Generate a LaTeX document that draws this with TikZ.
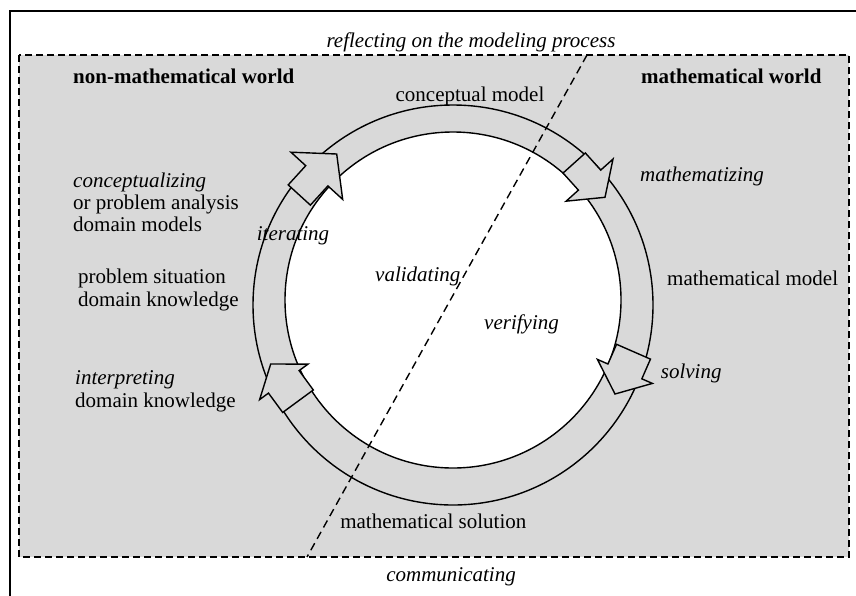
\documentclass[tikz,border=0pt]{standalone}
\usepackage{fontspec}
\setmainfont{Liberation Serif}
\usetikzlibrary{calc}
\definecolor{bggray}{RGB}{217,217,217}
\tikzset{
  lbl/.style={inner sep=0pt, font=\fontsize{21}{25}\selectfont},
  ilbl/.style={lbl, font=\fontsize{21}{25}\selectfont\itshape},
  blbl/.style={lbl, font=\fontsize{21}{25}\selectfont\bfseries},
  ringline/.style={line width=1.4pt},
  arrowbox/.style={line width=1.4pt, fill=bggray, line join=miter},
  divider/.style={line width=1.4pt, dash pattern=on 8pt off 5pt}
}
\begin{document}
\begin{tikzpicture}[x=1pt,y=-1pt]
\clip (0,0) rectangle (856,595);
\useasboundingbox (0,0) rectangle (856,595);
% outer frame (only left and top edges visible)
\draw[line width=1.8pt] (10,11) rectangle (900,650);
% dashed world box
\filldraw[fill=bggray, line width=1.4pt, dash pattern=on 7pt off 4pt] (19,55) rectangle (849,557);
% ring
\coordinate (oc) at (453,305);
\coordinate (ic) at (453,300);
\draw[ringline] (oc) circle[radius=200pt];
\filldraw[ringline, fill=white] (ic) circle[radius=168pt];
% block arrows: tail centre T, tip P, half shaft w, shaft length s, half head h
\foreach \n/\tx/\ty/\px/\py/\w/\s/\h in {
  1/299.3/195/336.7/154/15/26/35,
  2/574.2/163/605/197.3/15/23/31.5,
  3/633.5/351.7/615/394/18.5/21.5/30,
  4/298/401.2/270.7/364/19/24/30}{
  \coordinate (T\n) at (\tx,\ty);
  \coordinate (P\n) at (\px,\py);
  \coordinate (S\n) at ($(T\n)!\s pt!(P\n)$);
  \draw[arrowbox] ($(T\n)!\w pt!90:(P\n)$) -- ($(S\n)!\w pt!90:(P\n)$)
     -- ($(S\n)!\h pt!90:(P\n)$) -- (P\n) -- ($(S\n)!\h pt!-90:(P\n)$)
     -- ($(S\n)!\w pt!-90:(P\n)$) -- ($(T\n)!\w pt!-90:(P\n)$) -- cycle;
}
% dividing line
\coordinate (dtop) at (587,55);
\coordinate (dbot) at (307,557);
\draw[divider] (dtop) -- (dbot);
% labels
\node[ilbl, anchor=base] (reflect) at (471,47.7) {reflecting on the modeling process};
\node[blbl, anchor=base west] (nonmath) at (73,83.3) {non-mathematical world};
\node[blbl, anchor=base west] (math) at (641,83.3) {mathematical world};
\node[lbl, anchor=base] (concmodel) at (470,101.7) {conceptual model};
\node[ilbl, anchor=base west] (mathematizing) at (640,181.7) {mathematizing};
\node[lbl, anchor=base west] (mathmodel) at (667,285) {mathematical model};
\node[ilbl, anchor=base west] (solving) at (660.7,378) {solving};
\node[lbl, anchor=base] (mathsol) at (433.3,528) {mathematical solution};
\node[ilbl, anchor=base] (comm) at (451,581) {communicating};
\node[ilbl, anchor=base west] (concept) at (73,187) {conceptualizing};
\node[lbl, anchor=base west] (probanal) at (73,209) {or problem analysis};
\node[lbl, anchor=base west] (dommodels) at (73,231) {domain models};
\node[ilbl, anchor=base west] (iterating) at (256.7,240) {iterating};
\node[lbl, anchor=base west] (probsit) at (78,283) {problem situation};
\node[lbl, anchor=base west] (domknow1) at (78,306) {domain knowledge};
\node[ilbl, anchor=base west] (validating) at (375,281) {validating};
\node[ilbl, anchor=base west] (verifying) at (484,329) {verifying};
\node[ilbl, anchor=base west] (interpreting) at (75,384) {interpreting};
\node[lbl, anchor=base west] (domknow2) at (75,407) {domain knowledge};
\end{tikzpicture}
\end{document}
